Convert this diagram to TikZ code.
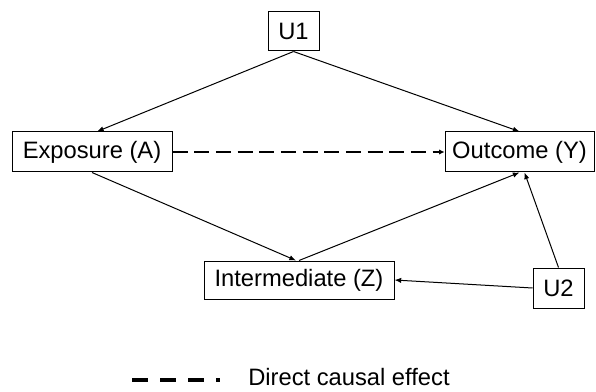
\documentclass[tikz,border=0pt]{standalone}
\usepackage{fontspec}
\setmainfont{Liberation Sans}
\usetikzlibrary{arrows.meta}
\begin{document}
\begin{tikzpicture}[x=0.75pt,y=-0.75pt,
  box/.style={draw,line width=0.75pt,inner sep=0pt,font=\fontsize{17.8}{20}\selectfont},
  arr/.style={line width=0.75pt,-{Latex[length=5pt,width=4pt]}},
  darr/.style={line width=1.5pt,dash pattern=on 11.25pt off 5pt,-{Latex[length=4pt,width=4pt]}}]
\useasboundingbox (0,0) rectangle (596,392);
\node[box,minimum width=38.25pt,minimum height=29.25pt] (u1) at (293.5,31.5) {U1};
\node[box,minimum width=120pt,minimum height=30pt] (a) at (92,152) {Exposure (A)};
\node[box,minimum width=111.75pt,minimum height=30pt] (y) at (519.5,152) {Outcome (Y)};
\node[box,minimum width=142.5pt,minimum height=28.5pt] (z) at (299,280) {Intermediate (Z)};
\node[box,minimum width=38.25pt,minimum height=30pt] (u2) at (558.5,288) {U2};
\draw[arr] (u1.south) -- ([xshift=3.75pt]a.north);
\draw[arr] (u1.south) -- (y.north);
\draw[arr] (a.south) -- ([xshift=-2.25pt]z.north);
\draw[arr] (z.north) -- (y.south);
\draw[arr] (u2.north) -- ([xshift=3.75pt]y.south);
\draw[arr] (u2.west) -- (z.east);
\draw[darr] (a.east) -- (y.west);
\coordinate (l1) at (132,380);
\coordinate (l2) at (220,380);
\draw[line width=3pt,dash pattern=on 12pt off 9pt] (l1) -- (l2);
\node[anchor=west,inner sep=0pt,font=\fontsize{17.8}{20}\selectfont] (lt) at (248,377) {Direct causal effect};
\end{tikzpicture}
\end{document}
